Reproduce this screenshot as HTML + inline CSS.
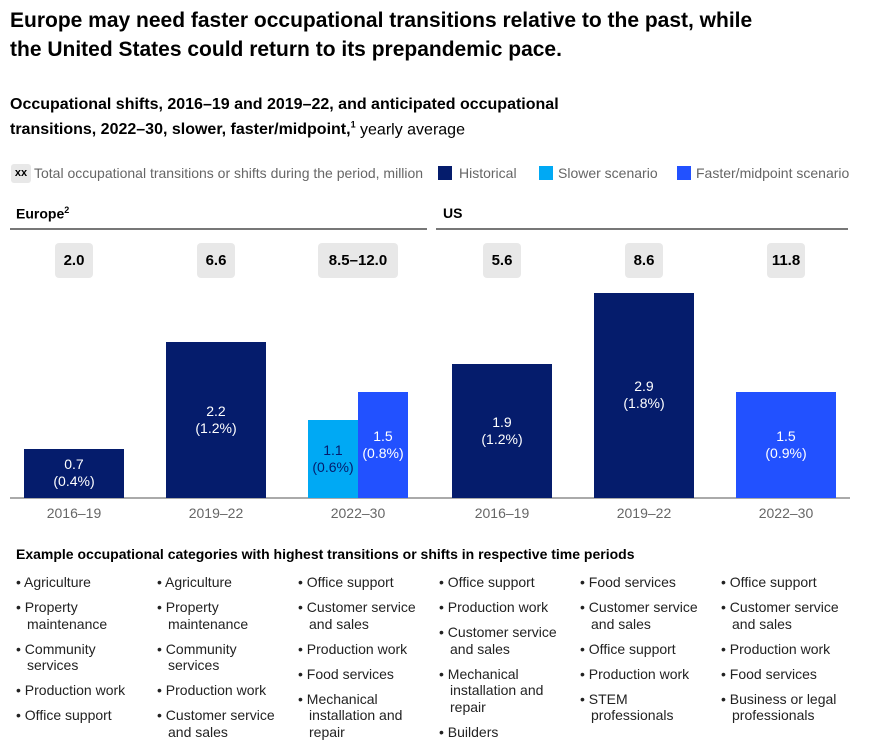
<!DOCTYPE html>
<html><head><meta charset="utf-8"><style>
body{margin:0;width:889px;height:748px;background:#fff;font-family:"Liberation Sans",sans-serif;color:#000;position:relative;overflow:hidden}
.abs{position:absolute}
.title{left:10px;top:6px;font-size:21px;font-weight:bold;line-height:29px;width:762px}
.sub{left:10px;top:94px;font-size:16px;line-height:21px;width:610px}
.leg{top:164px;font-size:14px;color:#666;line-height:18px}
.sq{width:14px;height:14px;top:166px}
.hdr{top:205px;font-size:14px;font-weight:bold}
.rule{height:2px;background:#777;top:228px}
.vbox{top:243px;height:35px;background:#e8e8e8;border-radius:4px;font-size:15px;font-weight:bold;text-align:center;line-height:35px}
.xl{top:505px;font-size:14px;color:#666;width:120px;text-align:center}
.cathead{left:16px;top:546px;font-size:14px;font-weight:bold}
.col{top:574px;width:124px;font-size:14px;line-height:16.5px;color:#222}
.col div{padding-left:11px;text-indent:-11px;margin-bottom:8.5px}
</style></head><body>
<div class="abs title">Europe may need faster occupational transitions relative to the past, while the United States could return to its prepandemic pace.</div>
<div class="abs sub"><b>Occupational shifts, 2016–19 and 2019–22, and anticipated occupational transitions, 2022–30, slower, faster/midpoint,<sup style="font-size:9px">1</sup></b> yearly average</div>
<div class="abs" style="left:11px;top:164px;width:20px;height:19px;background:#e8e8e8;border-radius:3px;font-size:11px;font-weight:bold;text-align:center;line-height:19px">xx</div>
<div class="abs leg" style="left:34px">Total occupational transitions or shifts during the period, million</div>
<div class="abs sq" style="left:438px;background:#051c6c"></div>
<div class="abs leg" style="left:459px">Historical</div>
<div class="abs sq" style="left:539px;background:#00a9f4"></div>
<div class="abs leg" style="left:558px">Slower scenario</div>
<div class="abs sq" style="left:677px;background:#2251ff"></div>
<div class="abs leg" style="left:696px">Faster/midpoint scenario</div>
<div class="abs hdr" style="left:16px">Europe<sup style="font-size:9px">2</sup></div>
<div class="abs hdr" style="left:443px">US</div>
<div class="abs rule" style="left:10px;width:417px"></div>
<div class="abs rule" style="left:436px;width:412px"></div>
<div id="chart"></div>
<div class="abs cathead">Example occupational categories with highest transitions or shifts in respective time periods</div>
<div class="abs col" style="left:16px"><div>• Agriculture</div><div>• Property maintenance</div><div>• Community services</div><div>• Production work</div><div>• Office support</div></div>
<div class="abs col" style="left:157px"><div>• Agriculture</div><div>• Property maintenance</div><div>• Community services</div><div>• Production work</div><div>• Customer service and sales</div></div>
<div class="abs col" style="left:298px"><div>• Office support</div><div>• Customer service and sales</div><div>• Production work</div><div>• Food services</div><div>• Mechanical installation and repair</div></div>
<div class="abs col" style="left:439px"><div>• Office support</div><div>• Production work</div><div>• Customer service and sales</div><div>• Mechanical installation and repair</div><div>• Builders</div></div>
<div class="abs col" style="left:580px"><div>• Food services</div><div>• Customer service and sales</div><div>• Office support</div><div>• Production work</div><div>• STEM professionals</div></div>
<div class="abs col" style="left:721px"><div>• Office support</div><div>• Customer service and sales</div><div>• Production work</div><div>• Food services</div><div>• Business or legal professionals</div></div>
<script>
const periods = ["2016–19","2019–22","2022–30","2016–19","2019–22","2022–30"];
const totals = ["2.0","6.6","8.5–12.0","5.6","8.6","11.8"];
const historicalValues = [0.7,2.2,null,1.9,2.9,null];
const slowerValues = [null,null,1.1,null,null,null];
const fasterValues = [null,null,1.5,null,null,1.5];
const shareLabels = ["(0.4%)","(1.2%)","","(1.2%)","(1.8%)",""];
const slowerShare = [null,null,"(0.6%)",null,null,null];
const fasterShare = [null,null,"(0.8%)",null,null,"(0.9%)"];

const base = 498, pxPerUnit = 70.7;
const y = v => base - v * pxPerUnit;
const groupX = i => (i < 3 ? 24 + i * 142 : 452 + (i - 3) * 142);
const c = document.getElementById('chart');
function mk(css, html){const d=document.createElement('div');d.className='abs';d.style.cssText=css;if(html!==undefined)d.innerHTML=html;c.appendChild(d);return d;}
function bar(x,w,v,color,txtColor,lbl,share){
  const top=y(v);
  const d=mk(`left:${x}px;top:${top}px;width:${w}px;height:${base-top}px;background:${color};display:flex;align-items:center;justify-content:center;text-align:center;color:${txtColor};font-size:14px;line-height:17px`, lbl+'<br>'+share);
  return d;
}
const axis=mk('left:10px;top:497px;width:840px;height:1.5px;background:#aaa');


periods.forEach((p,i)=>{
  const gx=groupX(i);
  const tw = totals[i].length>4?80:38;
  const b=mk(`left:${gx+50-tw/2}px;width:${tw}px`, totals[i]);
  b.classList.add('vbox');
  
  
  const xl=mk(`left:${gx-10}px`, p);
  xl.classList.add('xl');
  
  
  if(historicalValues[i]!=null){
    const h=bar(gx,100,historicalValues[i],'#051c6c','#fff',historicalValues[i].toFixed(1),shareLabels[i]);
    
    
  }
  if(slowerValues[i]!=null){
    const s=bar(gx,50,slowerValues[i],'#00a9f4','#051c6c',slowerValues[i].toFixed(1),slowerShare[i]);
    
    
  }
  if(fasterValues[i]!=null){
    const sx = slowerValues[i]!=null ? gx+50 : gx;
    const sw = slowerValues[i]!=null ? 50 : 100;
    const f=bar(sx,sw,fasterValues[i],'#2251ff','#fff',fasterValues[i].toFixed(1),fasterShare[i]);
    
    
  }
});
</script>
</body></html>
